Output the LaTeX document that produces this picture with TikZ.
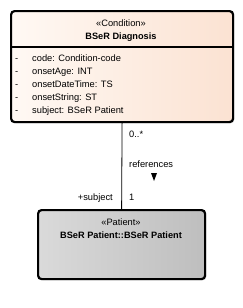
\documentclass[tikz,border=0pt]{standalone}
\usepackage{fontspec}
\setmainfont{Liberation Sans}
\usetikzlibrary{shadows}
\definecolor{condlight}{HTML}{FFF9F4}
\definecolor{conddark}{HTML}{FBE2D2}
\definecolor{patlight}{HTML}{DADADA}
\definecolor{patdark}{HTML}{BEBEBE}
\begin{document}
\begin{tikzpicture}[
  x=1pt,y=-1pt,
  font=\fontsize{9.3}{11}\selectfont,
  classbox/.style={draw,line width=2.2pt,rounded corners=3.5pt,
    drop shadow={opacity=.25,shadow xshift=1.2pt,shadow yshift=-1.2pt},
    inner sep=0pt},
  stereo/.style={anchor=base,inner sep=0pt},
  cname/.style={anchor=base,inner sep=0pt,font=\fontsize{9.2}{11}\selectfont\bfseries},
  attr/.style={anchor=base west,inner sep=0pt},
  lbl/.style={anchor=base west,inner sep=0pt}]
\useasboundingbox[fill=white] (0,0) rectangle (242,308);
% class boxes
\node[classbox,left color=condlight,right color=conddark,
  minimum width=222pt,minimum height=111pt,anchor=north west] (diag) at (10,10) {};
\node[classbox,left color=patlight,right color=patdark,
  minimum width=167pt,minimum height=69pt,anchor=north west] (patient) at (37,209) {};
\draw[line width=2pt] ([yshift=-37pt]diag.north west) -- ([yshift=-37pt]diag.north east);
% header texts
\node[stereo] (diagst) at (121,26) {«Condition»};
\node[cname] (diagname) at (121,39) {BSeR Diagnosis};
\node[stereo] (patst) at (121,225) {«Patient»};
\node[cname] (patname) at (121,238) {BSeR Patient::BSeR Patient};
% attributes
\foreach \t [count=\i] in {code: Condition-code,onsetAge: INT,
  onsetDateTime: TS,onsetString: ST,subject: BSeR Patient}{
  \node[attr] (dash\i) at (15,61+13.2*\i-13.2) {-};
  \node[attr] (attr\i) at (32,61+13.2*\i-13.2) {\t};
}
% association
\draw[line width=0.8pt] (diag.south) -- (patient.north);
\node[lbl] (mult1) at (129,137) {0..*};
\node[lbl] (assoc) at (129,167) {references};
\fill (151,173) -- (157,173) -- (154,181) -- cycle;
\node[anchor=base east,inner sep=0pt] (role) at (113,200) {+subject};
\node[lbl] (mult2) at (129,200) {1};
\end{tikzpicture}
\end{document}
